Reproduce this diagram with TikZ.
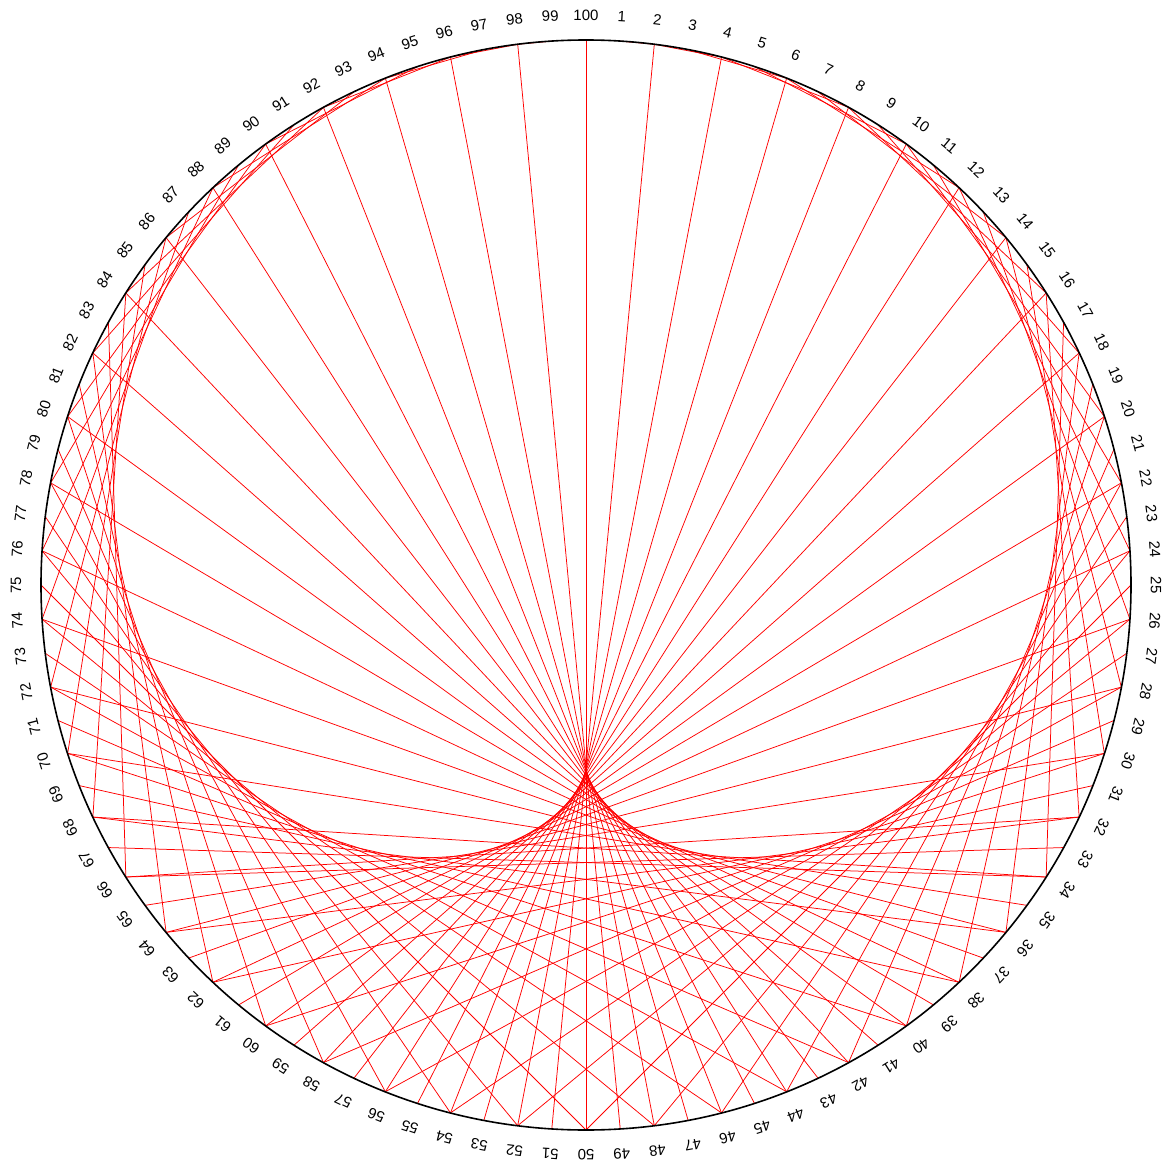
\documentclass[tikz,border=0pt]{standalone}
\usepackage{fontspec}
\setmainfont{Liberation Sans}
\begin{document}
\begin{tikzpicture}[x=1pt,y=-1pt,
  chord/.style={red, line width=0.75pt},
  rim/.style={black, line width=1.6pt},
  lab/.style={font=\fontsize{15}{15}\selectfont, inner sep=0pt, anchor=center}]
\useasboundingbox (0,0) rectangle (1164,1161);
\coordinate (c) at (586,585);
\foreach \k in {1,...,100} {
  \pgfmathsetmacro\ang{3.6*\k-90}
  \pgfmathsetmacro\px{586+545*cos(\ang)}
  \pgfmathsetmacro\py{585+545*sin(\ang)}
  \coordinate (p\k) at (\px,\py);
  \pgfmathsetmacro\lx{586+570*cos(\ang)}
  \pgfmathsetmacro\ly{585+570*sin(\ang)}
  \pgfmathsetmacro\rot{-3.6*\k}
  \node[lab, rotate=\rot] (l\k) at (\lx,\ly) {\k};
}
\foreach \k in {1,...,99} {
  \pgfmathtruncatemacro\m{mod(2*\k,100)}
  \ifnum\m=0 \def\m{100}\fi
  \draw[chord] (p\k) -- (p\m);
}
\draw[rim] (c) circle (545);
\end{tikzpicture}
\end{document}
